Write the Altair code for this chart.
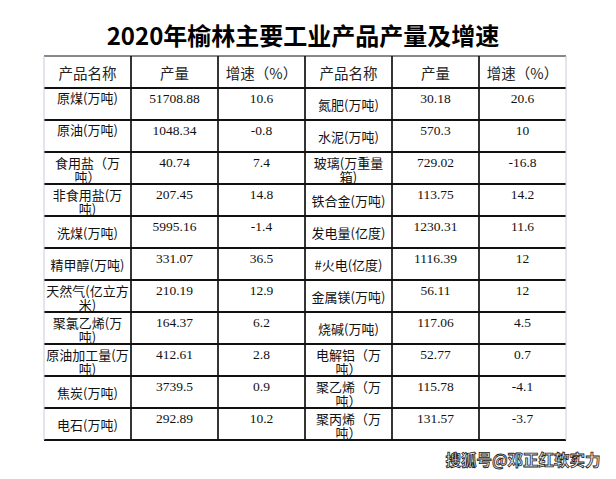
import altair as alt
import pandas as pd

title_text = "2020年榆林主要工业产品产量及增速"
header_labels = ["产品名称", "产量", "增速（%）", "产品名称", "产量", "增速（%）"]

left_names = ["原煤(万吨)", "原油(万吨)", "食用盐（万\n吨）", "非食用盐(万\n吨)", "洗煤(万吨)",
              "精甲醇(万吨)", "天然气(亿立方\n米)", "聚氯乙烯(万\n吨)", "原油加工量(万\n吨)",
              "焦炭(万吨)", "电石(万吨)"]
left_output = [51708.88, 1048.34, 40.74, 207.45, 5995.16, 331.07, 210.19, 164.37, 412.61, 3739.5, 292.89]
left_growth = [10.6, -0.8, 7.4, 14.8, -1.4, 36.5, 12.9, 6.2, 2.8, 0.9, 10.2]

right_names = ["氮肥(万吨)", "水泥(万吨)", "玻璃(万重量\n箱)", "铁合金(万吨)", "发电量(亿度)",
               "#火电(亿度)", "金属镁(万吨)", "烧碱(万吨)", "电解铝（万\n吨）", "聚乙烯（万\n吨）",
               "聚丙烯（万\n吨）"]
right_output = [30.18, 570.3, 729.02, 113.75, 1230.31, 1116.39, 56.11, 117.06, 52.77, 115.78, 131.57]
right_growth = [20.6, 10, -16.8, 14.2, 11.6, 12, 12, 4.5, 0.7, -4.1, -3.7]

watermark = "搜狐号@邓正红软实力"

# style: names drawn near the top of their cell
top_aligned_names = ["原煤(万吨)", "原油(万吨)"]

n_rows = len(left_names)
n_cols = len(header_labels)

# ---- build tables from the arrays ----
header_df = pd.DataFrame({"c": [i + 0.5 for i in range(n_cols)],
                          "r": [0.6] * n_cols,
                          "t": header_labels})

name_rows = []
num_rows = []
for side, (names, outs, grs) in enumerate([(left_names, left_output, left_growth),
                                           (right_names, right_output, right_growth)]):
    base = side * 3
    for i, (nm, o, g) in enumerate(zip(names, outs, grs)):
        row = i + 1
        if "\n" in nm:
            off = 0.38
        elif nm in top_aligned_names:
            off = 0.34
        else:
            off = 0.55
        name_rows.append({"c": base + 0.5, "r": row + off, "t": nm})
        num_rows.append({"c": base + 1.5, "r": row + 0.34, "t": str(o)})
        num_rows.append({"c": base + 2.5, "r": row + 0.34, "t": str(g)})
names_df = pd.DataFrame(name_rows)
nums_df = pd.DataFrame(num_rows)

hlines = pd.DataFrame({"r": list(range(n_rows + 2)),
                       "x0": [0] * (n_rows + 2),
                       "x1": [n_cols] * (n_rows + 2),
                       "w": [1.0] + [2.0] * (n_rows + 1)})
vlines = pd.DataFrame({"c": list(range(n_cols + 1)),
                       "y0": [0] * (n_cols + 1),
                       "y1": [n_rows + 1] * (n_cols + 1),
                       "col": ["#c8c8dc"] + ["#111111"] * (n_cols - 1) + ["#c8c8dc"],
                       "w": [1.0] + [1.7] * (n_cols - 1) + [1.0]})

xs = alt.Scale(domain=[0, n_cols], range=[36, 558])
ys = alt.Scale(domain=[0, n_rows + 1], range=[48, 432])

h_rule = alt.Chart(hlines).mark_rule(color="#111111").encode(
    x=alt.X("x0:Q", scale=xs, axis=None),
    x2="x1:Q",
    y=alt.Y("r:Q", scale=ys, axis=None),
    strokeWidth=alt.StrokeWidth("w:Q", scale=None),
)
v_rule = alt.Chart(vlines).mark_rule().encode(
    x=alt.X("c:Q", scale=xs, axis=None),
    y=alt.Y("y0:Q", scale=ys, axis=None),
    y2="y1:Q",
    color=alt.Color("col:N", scale=None),
    strokeWidth=alt.StrokeWidth("w:Q", scale=None),
)

header = alt.Chart(header_df).mark_text(
    font="Noto Sans CJK SC", fontSize=14.5, color="#222222", baseline="middle", align="center"
).encode(x=alt.X("c:Q", scale=xs, axis=None), y=alt.Y("r:Q", scale=ys, axis=None), text="t:N")

names = alt.Chart(names_df).mark_text(
    font="Noto Sans CJK SC", fontSize=13, color="#111111", baseline="middle", align="center",
    lineBreak="\n", lineHeight=14
).encode(x=alt.X("c:Q", scale=xs, axis=None), y=alt.Y("r:Q", scale=ys, axis=None), text="t:N")

nums = alt.Chart(nums_df).mark_text(
    font="Liberation Serif", fontSize=13.5, color="#111111", baseline="middle", align="center"
).encode(x=alt.X("c:Q", scale=xs, axis=None), y=alt.Y("r:Q", scale=ys, axis=None), text="t:N")

title = alt.Chart(pd.DataFrame({"t": [title_text]})).mark_text(
    font="Noto Sans CJK SC", fontSize=24, fontWeight="bold", color="#000000",
    baseline="middle", align="center"
).encode(x=alt.value(295), y=alt.value(30), text="t:N")

wm = alt.Chart(pd.DataFrame({"t": [watermark]})).mark_text(
    font="Noto Sans CJK SC", fontSize=15.5, fontWeight="bold", color="#eeeeee",
    stroke="#1a1a1a", strokeWidth=0.8, baseline="middle", align="center"
).encode(x=alt.value(515), y=alt.value(453), text="t:N")

chart = alt.layer(h_rule, v_rule, header, names, nums, title, wm).properties(
    width=600, height=463, autosize="none", padding=0, background="white"
).configure_view(stroke=None)

chart.save("out.html", embed_options={"renderer": "svg", "actions": False})
